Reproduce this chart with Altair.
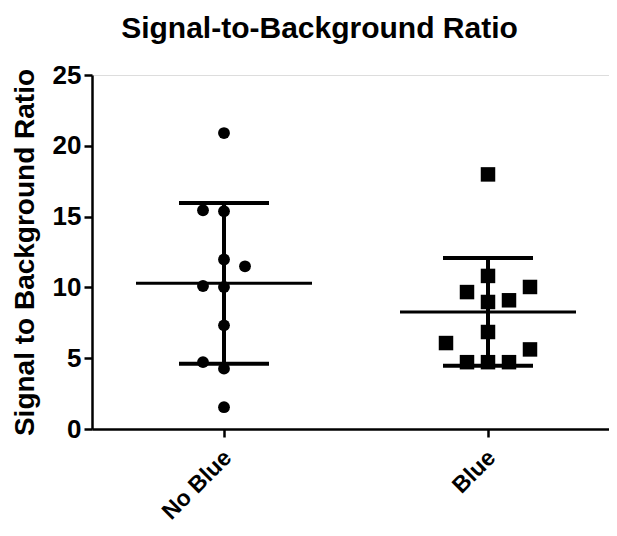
import altair as alt
import pandas as pd

groups = ["No Blue", "Blue"]

no_blue_values = [20.9, 15.45, 15.38, 11.97, 11.49, 10.10, 10.03, 7.32, 4.72, 4.26, 1.54]
no_blue_column = [0, -1, 0, 0, 1, -1, 0, 0, -1, 0, 0]

blue_values = [17.98, 10.81, 9.67, 10.03, 8.97, 9.09, 6.85, 6.07, 5.62, 4.72, 4.72, 4.72]
blue_column = [0, 0, -1, 2, 0, 1, 0, -2, 2, -1, 0, 1]

y_ticks = [0, 5, 10, 15, 20, 25]

df = pd.DataFrame({
    "group": ["No Blue"] * len(no_blue_values) + ["Blue"] * len(blue_values),
    "value": no_blue_values + blue_values,
    "col": no_blue_column + blue_column,
})

FONT = "Liberation Sans"

x_scale = alt.Scale(domain=groups, paddingInner=0, paddingOuter=0, range=[0, 528])
x_enc = alt.X(
    "group:N",
    sort=groups,
    scale=x_scale,
    axis=alt.Axis(
        title=None, labelAngle=-45, labelAlign="right", labelBaseline="top",
        labelFont=FONT, labelFontSize=23, labelFontWeight="bold", labelColor="black",
        labelPadding=9, labelOffset=-4, tickSize=8, tickWidth=2.5, tickColor="black",
        domainColor="black", domainWidth=2.5, grid=False,
    ),
)
y_scale = alt.Scale(domain=[0, 25], nice=False)
y_axis = alt.Axis(
    title="Signal to Background Ratio", values=y_ticks,
    titleFont=FONT, titleFontSize=28, titleFontWeight="bold", titleColor="black",
    titlePadding=13,
    labelFont=FONT, labelFontSize=26, labelFontWeight="bold", labelColor="black",
    labelPadding=3, tickSize=8, tickWidth=2.5, tickColor="black",
    domainColor="black", domainWidth=2.5, grid=False,
)

base = alt.Chart(df)

points = base.mark_point(filled=True, color="black", opacity=1).encode(
    x=x_enc,
    xOffset=alt.XOffset("col:Q", scale=alt.Scale(domain=[-6.286, 6.286])),
    y=alt.Y("value:Q", scale=y_scale, axis=y_axis),
    shape=alt.Shape("group:N", scale=alt.Scale(domain=groups, range=["circle", "square"]), legend=None),
    size=alt.Size("group:N", scale=alt.Scale(domain=groups, range=[140, 210]), legend=None),
)

summary = base.transform_aggregate(
    mean="mean(value)", sd="stdev(value)", groupby=["group"]
).transform_calculate(
    lo="datum.mean - datum.sd", hi="datum.mean + datum.sd"
)

vline = summary.mark_rule(color="black", strokeWidth=4).encode(
    x=alt.X("group:N", sort=groups, scale=x_scale), y=alt.Y("lo:Q", scale=y_scale), y2="hi:Q"
)
mean_line = summary.mark_tick(color="black", size=176, thickness=3, opacity=1).encode(
    x=alt.X("group:N", sort=groups, scale=x_scale), y=alt.Y("mean:Q", scale=y_scale)
)
cap_hi = summary.mark_tick(color="black", size=90, thickness=4, opacity=1).encode(
    x=alt.X("group:N", sort=groups, scale=x_scale), y=alt.Y("hi:Q", scale=y_scale)
)
cap_lo = summary.mark_tick(color="black", size=90, thickness=4, opacity=1).encode(
    x=alt.X("group:N", sort=groups, scale=x_scale), y=alt.Y("lo:Q", scale=y_scale)
)

chart = alt.layer(vline, mean_line, cap_hi, cap_lo, points).properties(
    width=517, height=354,
    title=alt.TitleParams(
        "Signal-to-Background Ratio", font=FONT, fontSize=30, fontWeight="bold",
        color="black", anchor="middle", dx=-31, offset=18,
    ),
    autosize=alt.AutoSizeParams(type="none"),
    padding={"left": 84, "top": 67, "right": 0, "bottom": 99},
).configure_view(stroke=None).configure(background="white")

chart.save("out.html", embed_options={"renderer": "svg", "actions": False})
